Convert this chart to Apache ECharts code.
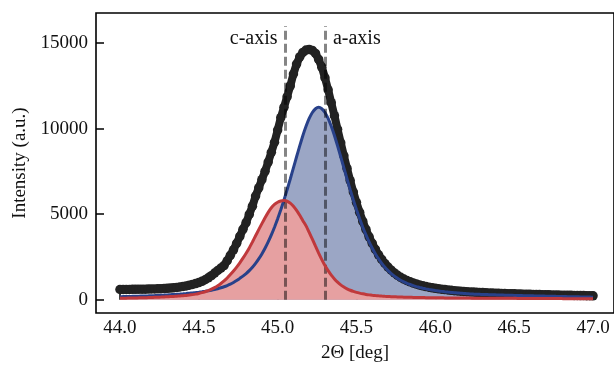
<!DOCTYPE html>
<html>
<head>
<meta charset="utf-8">
<script src="https://cdn.jsdelivr.net/npm/echarts@6/dist/echarts.min.js"></script>
<style>
  html, body { margin: 0; padding: 0; background: #fff; }
  #chart { width: 614px; height: 368px; }
</style>
</head>
<body>
<div id="chart"></div>
<script>
// 2-theta positions of the measured points (deg)
const twoTheta = [
  44.00, 44.02, 44.04, 44.06, 44.08, 44.10, 44.12, 44.14, 44.16, 44.18,
  44.20, 44.22, 44.24, 44.26, 44.28, 44.30, 44.32, 44.34, 44.36, 44.38,
  44.40, 44.42, 44.44, 44.46, 44.48, 44.50, 44.52, 44.54, 44.56, 44.58,
  44.60, 44.62, 44.64, 44.66, 44.68, 44.70, 44.72, 44.74, 44.76, 44.78,
  44.80, 44.82, 44.84, 44.86, 44.88, 44.90, 44.92, 44.94, 44.96, 44.98,
  45.00, 45.02, 45.04, 45.06, 45.08, 45.10, 45.12, 45.14, 45.16, 45.18,
  45.20, 45.22, 45.24, 45.26, 45.28, 45.30, 45.32, 45.34, 45.36, 45.38,
  45.40, 45.42, 45.44, 45.46, 45.48, 45.50, 45.52, 45.54, 45.56, 45.58,
  45.60, 45.62, 45.64, 45.66, 45.68, 45.70, 45.72, 45.74, 45.76, 45.78,
  45.80, 45.82, 45.84, 45.86, 45.88, 45.90, 45.92, 45.94, 45.96, 45.98,
  46.00, 46.02, 46.04, 46.06, 46.08, 46.10, 46.12, 46.14, 46.16, 46.18,
  46.20, 46.22, 46.24, 46.26, 46.28, 46.30, 46.32, 46.34, 46.36, 46.38,
  46.40, 46.42, 46.44, 46.46, 46.48, 46.50, 46.52, 46.54, 46.56, 46.58,
  46.60, 46.62, 46.64, 46.66, 46.68, 46.70, 46.72, 46.74, 46.76, 46.78,
  46.80, 46.82, 46.84, 46.86, 46.88, 46.90, 46.92, 46.94, 46.96, 46.98,
  47.00
];

// measured intensity (black dots)
const measured = [
  600, 602, 604, 606, 608, 611, 614, 617, 620, 624,
  628, 633, 639, 646, 655, 666, 680, 697, 718, 745,
  775, 810, 850, 895, 945, 1005, 1080, 1170, 1280, 1410,
  1560, 1710, 1850, 2000, 2280, 2600, 2920, 3300, 3700, 4120,
  4510, 4990, 5470, 6060, 6540, 7020, 7510, 8050, 8620, 9210,
  9920, 10650, 11250, 11870, 12500, 13200, 13780, 14200, 14460, 14600,
  14640, 14580, 14400, 14050, 13600, 12980, 12280, 11520, 10760, 9960,
  9180, 8420, 7680, 6970, 6300, 5680, 5110, 4580, 4110, 3680,
  3290, 2940, 2630, 2360, 2120, 1910, 1730, 1570, 1430, 1310,
  1210, 1120, 1045, 975, 915, 860, 812, 770, 732, 698,
  667, 640, 614, 592, 570, 551, 533, 516, 500, 486,
  472, 460, 448, 437, 427, 418, 409, 400, 392, 384,
  377, 370, 363, 357, 351, 345, 339, 333, 328, 322,
  317, 312, 307, 302, 297, 292, 288, 283, 279, 274,
  270, 266, 262, 258, 254, 250, 246, 242, 238, 235,
  231
];

// fitted a-axis component (blue)
const aAxisFit = [
  180, 184, 188, 193, 198, 203, 209, 215, 222, 229,
  237, 245, 254, 263, 273, 284, 295, 307, 320, 334,
  349, 365, 382, 400, 420, 443, 468, 495, 525, 560,
  600, 645, 700, 760, 830, 910, 1010, 1120, 1250, 1380,
  1530, 1700, 1900, 2130, 2390, 2680, 3010, 3380, 3790, 4240,
  4730, 5260, 5830, 6430, 7060, 7710, 8360, 9000, 9600, 10140,
  10600, 10950, 11170, 11250, 11170, 10950, 10600, 10140, 9600, 9000,
  8360, 7710, 7060, 6430, 5830, 5260, 4730, 4240, 3790, 3380,
  3010, 2680, 2390, 2130, 1900, 1700, 1530, 1380, 1250, 1140,
  1045, 960, 890, 825, 770, 720, 675, 635, 600, 570,
  540, 515, 490, 468, 448, 430, 412, 396, 381, 367,
  354, 342, 331, 320, 315, 309, 303, 297, 291, 286,
  280, 275, 270, 265, 260, 255, 250, 245, 240, 236,
  231, 227, 222, 218, 214, 210, 206, 202, 198, 194,
  190, 186, 182, 178, 174, 170, 166, 162, 158, 154,
  150
];

// fitted c-axis component (red)
const cAxisFit = [
  88, 91, 94, 98, 102, 106, 111, 116, 121, 127,
  133, 140, 147, 155, 164, 173, 184, 195, 208, 222,
  238, 255, 275, 300, 330, 370, 415, 470, 535, 615,
  710, 820, 950, 1100, 1270, 1470, 1680, 1910, 2160, 2430,
  2720, 3030, 3380, 3740, 4100, 4450, 4790, 5110, 5380, 5570,
  5700, 5775, 5800, 5760, 5650, 5470, 5230, 4940, 4620, 4320,
  3940, 3540, 3130, 2730, 2350, 2000, 1700, 1440, 1220, 1030,
  870, 745, 640, 555, 485, 430, 385, 345, 312, 285,
  262, 243, 227, 213, 201, 190, 180, 172, 165, 158,
  152, 147, 142, 138, 134, 130, 127, 124, 121, 118,
  115, 113, 111, 109, 107, 105, 103, 101, 99, 97,
  96, 95, 94, 93, 92, 91, 90, 89, 88, 87,
  86, 85, 84, 83, 82, 81, 80, 79, 78, 77,
  76, 75, 74, 73, 72, 71, 70, 69, 68, 67,
  66, 65, 64, 63, 62, 62, 61, 61, 60, 60,
  59
];

const peakPositions = [45.05, 45.30];
const peakLabels = ['c-axis', 'a-axis'];
const markerTop = 16000;
const labelLevel = 15250;

const xTicks = [44.0, 44.5, 45.0, 45.5, 46.0, 46.5, 47.0];
const yTicks = [0, 5000, 10000, 15000];

const pairs = (values) => twoTheta.map((x, i) => [x, values[i]]);

const font = "'Liberation Serif', 'DejaVu Serif', serif";
const textColor = '#111';

const chart = echarts.init(document.getElementById('chart'));

const option = {
  animation: false,
  grid: {
    left: 96,
    right: -1,
    top: 13,
    bottom: 53,
    show: true,
    borderColor: '#000',
    borderWidth: 1.6,
    backgroundColor: 'transparent'
  },
  xAxis: {
    type: 'value',
    min: 43.848,
    max: 47.133,
    name: '2Θ [deg]',
    nameLocation: 'middle',
    nameGap: 31,
    nameTextStyle: { fontFamily: font, fontSize: 19, color: textColor },
    axisLine: { show: false },
    splitLine: { show: false },
    axisTick: {
      inside: true,
      length: 8,
      customValues: xTicks,
      lineStyle: { color: '#000', width: 1.5 }
    },
    axisLabel: {
      customValues: xTicks,
      margin: 6,
      fontFamily: font,
      fontSize: 19,
      color: textColor,
      formatter: (v) => Number(v).toFixed(1)
    }
  },
  yAxis: {
    type: 'value',
    min: -775,
    max: 16767,
    name: 'Intensity (a.u.)',
    nameLocation: 'middle',
    nameGap: 64,
    nameTextStyle: { fontFamily: font, fontSize: 19, color: textColor },
    axisLine: { show: false },
    splitLine: { show: false },
    axisTick: {
      inside: true,
      length: 8,
      customValues: yTicks,
      lineStyle: { color: '#000', width: 1.5 }
    },
    axisLabel: {
      customValues: yTicks,
      margin: 8,
      fontFamily: font,
      fontSize: 19,
      color: textColor,
      formatter: (v) => String(Math.round(v))
    }
  },
  series: [
    {
      // a-axis fill
      type: 'line',
      data: pairs(aAxisFit),
      symbol: 'none',
      smooth: 0.2,
      lineStyle: { width: 0 },
      areaStyle: { color: '#9ba6c5', opacity: 1 },
      z: 1
    },
    {
      // c-axis fill
      type: 'line',
      data: pairs(cAxisFit),
      symbol: 'none',
      smooth: 0.2,
      lineStyle: { width: 0 },
      areaStyle: { color: '#e6a0a1', opacity: 1 },
      z: 2
    },
    {
      // measured data
      type: 'line',
      data: pairs(measured),
      symbol: 'circle',
      symbolSize: 9.5,
      showAllSymbol: true,
      itemStyle: { color: '#222' },
      lineStyle: { color: '#222', width: 8 },
      z: 3
    },
    {
      // a-axis fit line + peak markers
      type: 'line',
      data: pairs(aAxisFit),
      symbol: 'none',
      smooth: 0.2,
      lineStyle: { color: '#28418a', width: 3 },
      markLine: {
        silent: true,
        symbol: ['none', 'none'],
        label: { show: false },
        lineStyle: { color: 'rgba(0,0,0,0.48)', width: 3, type: [9, 4] },
        data: peakPositions.map((x) => [{ coord: [x, 0] }, { coord: [x, markerTop] }])
      },
      z: 4
    },
    {
      // c-axis fit line
      type: 'line',
      data: pairs(cAxisFit),
      symbol: 'none',
      smooth: 0.2,
      lineStyle: { color: '#c0393c', width: 3 },
      z: 5
    },
    {
      // peak labels
      type: 'scatter',
      symbolSize: 0,
      silent: true,
      itemStyle: { opacity: 1 },
      data: peakPositions.map((x, i) => ({
        value: [x, labelLevel],
        label: { position: i === 0 ? 'left' : 'right' }
      })),
      label: {
        show: true,
        distance: 8,
        fontFamily: font,
        fontSize: 20,
        color: textColor,
        opacity: 1,
        formatter: (p) => peakLabels[p.dataIndex]
      },
      z: 6
    }
  ]
};

chart.setOption(option);
</script>
</body>
</html>
